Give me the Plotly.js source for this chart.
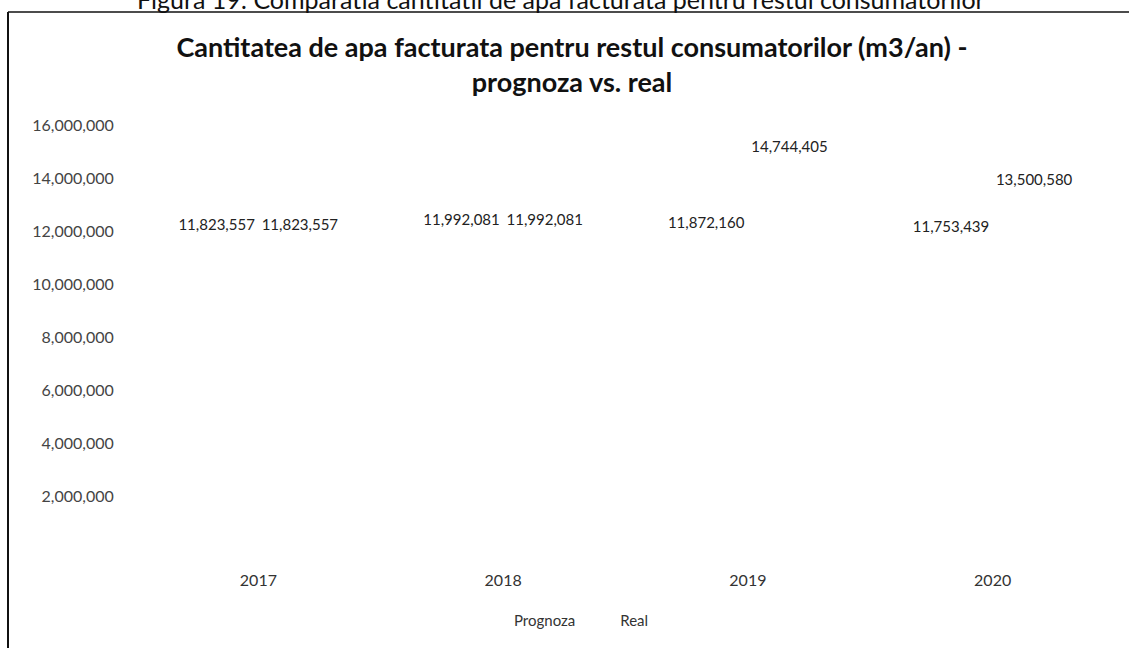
<!DOCTYPE html>
<html>
<head>
<meta charset="utf-8">
<script src="https://cdn.plot.ly/plotly-3.0.1.min.js"></script>
<style>html,body{margin:0;padding:0;background:#fff;}#chart{width:1129px;height:648px;}</style>
</head>
<body>
<div id="chart"></div>
<script>
const years = ["2017", "2018", "2019", "2020"];
const prognoza = [11823557, 11992081, 11872160, 11753439];
const real = [11823557, 11992081, 14744405, 13500580];
const yTicks = [2000000, 4000000, 6000000, 8000000, 10000000, 12000000, 14000000, 16000000];
const yTickText = ["2,000,000", "4,000,000", "6,000,000", "8,000,000", "10,000,000", "12,000,000", "14,000,000", "16,000,000"];
const seriesNames = ["Prognoza", "Real"];
const chartTitle = "<b>Cantitatea de apa facturata pentru restul consumatorilor (m3/an) -<br>prognoza vs. real</b>";
const captionText = "Figura 19: Comparatia cantitatii de apa facturata pentru restul consumatorilor";

const W = 1129, H = 648;
const L = 136, R = 14, T = 125, B = 99;
const pw = W - L - R, ph = H - T - B;
const px = x => (x - L) / pw;
const py = y => (H - B - y) / ph;

const fmt = v => v.toLocaleString('en-US');
const font = "Lato, 'Noto Sans', sans-serif";

const traces = [
  {type: 'bar', name: seriesNames[0], x: years, y: prognoza, text: prognoza.map(fmt),
   textposition: 'outside', cliponaxis: false,
   textfont: {family: font, size: 15, color: '#222'},
   marker: {color: '#ffffff', line: {width: 0}}, hoverinfo: 'x+y'},
  {type: 'bar', name: seriesNames[1], x: years, y: real, text: real.map(fmt),
   textposition: 'outside', cliponaxis: false,
   textfont: {family: font, size: 15, color: '#222'},
   marker: {color: '#ffffff', line: {width: 0}}, hoverinfo: 'x+y'}
];

const layout = {
  width: W, height: H,
  margin: {l: L, r: R, t: T, b: B},
  paper_bgcolor: '#ffffff', plot_bgcolor: '#ffffff',
  font: {family: font, color: '#333'},
  title: {text: chartTitle, x: 572 / W, xanchor: 'center', xref: 'container',
          y: 1 - 57 / H, yanchor: 'middle', yref: 'container',
          font: {family: font, size: 27, color: '#111'}},
  barmode: 'group', bargap: 0.32, bargroupgap: 0,
  xaxis: {type: 'category', showgrid: false, zeroline: false, showline: false,
          ticks: 'outside', ticklen: 17, tickcolor: 'rgba(0,0,0,0)',
          tickfont: {family: font, size: 16, color: '#333'}},
  yaxis: {range: [0, 16000000], tickvals: yTicks, ticktext: yTickText,
          showgrid: false, zeroline: false, showline: false,
          ticks: 'outside', ticklen: 18, tickcolor: 'rgba(0,0,0,0)',
          tickfont: {family: font, size: 16, color: '#444'}},
  showlegend: true,
  legend: {orientation: 'h', x: px(474), xanchor: 'left', y: py(620), yanchor: 'middle',
           font: {family: font, size: 15, color: '#333'}, itemwidth: 30,
           bgcolor: 'rgba(0,0,0,0)'},
  annotations: [
    {text: captionText, xref: 'paper', yref: 'paper', x: px(561), y: py(16),
     xanchor: 'center', yanchor: 'bottom', showarrow: false,
     font: {family: font, size: 25, color: '#111'}}
  ],
  shapes: [
    {type: 'line', xref: 'paper', yref: 'paper', x0: px(8), x1: px(1129), y0: py(12), y1: py(12),
     line: {color: '#111', width: 1.5}},
    {type: 'line', xref: 'paper', yref: 'paper', x0: px(8), x1: px(8), y0: py(12), y1: py(648),
     line: {color: '#111', width: 2}}
  ]
};

Plotly.newPlot('chart', traces, layout, {displayModeBar: false, staticPlot: true});
</script>
</body>
</html>
